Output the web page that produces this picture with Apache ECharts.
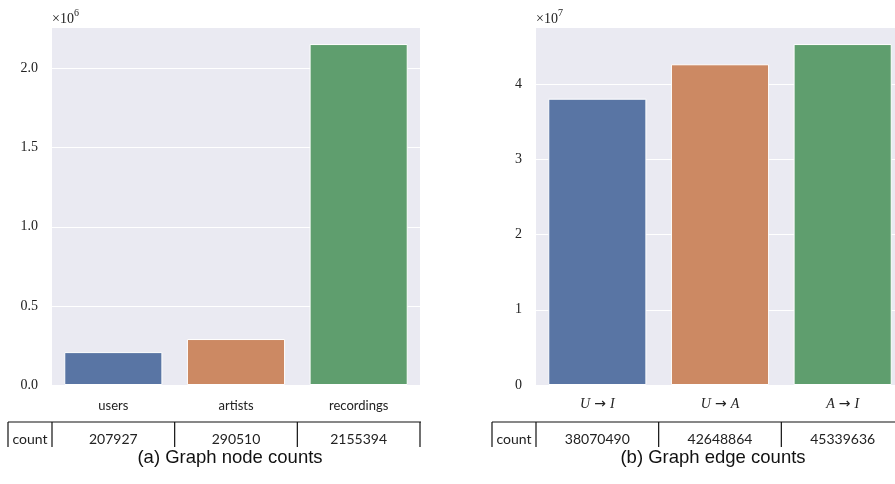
<!DOCTYPE html>
<html>
<head>
<meta charset="utf-8">
<script src="https://cdn.jsdelivr.net/npm/echarts@6/dist/echarts.min.js"></script>
<style>html,body{margin:0;padding:0;background:#fff;overflow:hidden;width:895px;height:484px;}#c{width:920px;height:484px;}</style>
</head>
<body>
<div id="c"></div>
<script>
// ---- data ----
const nodeCategories = ['users', 'artists', 'recordings'];
const nodeCounts = [207927, 290510, 2155394];
const edgeCategories = ['U→I', 'U→A', 'A→I'];
const edgeLabelParts = [['U', 'I'], ['U', 'A'], ['A', 'I']];
const edgeCounts = [38070490, 42648864, 45339636];
const tableRowLabel = 'count';
const captions = ['(a) Graph node counts', '(b) Graph edge counts'];
const barColors = ['#5975a4', '#cc8963', '#5f9e6e'];

const serif = '"Liberation Serif", "DejaVu Serif", serif';
const sans = 'Lato, "Open Sans", sans-serif';

const chart = echarts.init(document.getElementById('c'), null, {renderer: 'canvas'});

function yAxisCfg(grid, scale, decimals, exp) {
  return {
    type: 'value', gridIndex: grid, min: 0,
    max: function (v) { return v.max * 1.05; },
    interval: 0.5 * scale * (decimals ? 1 : 2),
    axisLine: {show: false}, axisTick: {show: false},
    splitLine: {lineStyle: {color: '#ffffff', width: 1}},
    axisLabel: {
      fontFamily: serif, fontSize: 14, color: '#222', margin: 14,
      showMaxLabel: false,
      formatter: function (v) { return (v / scale).toFixed(decimals); }
    },
    name: '{a|×10}{s|' + exp + '}',
    nameLocation: 'end', nameGap: 1,
    nameTextStyle: {
      align: 'left', verticalAlign: 'bottom', padding: [0, 0, 0, 0],
      rich: {
        a: {fontFamily: serif, fontSize: 14, color: '#222', lineHeight: 18, verticalAlign: 'bottom'},
        s: {fontFamily: serif, fontSize: 10, color: '#222', verticalAlign: 'top', lineHeight: 18}
      }
    }
  };
}

function seriesData(vals) {
  return vals.map(function (v, i) {
    return {value: v, itemStyle: {color: barColors[i]}};
  });
}

const option = {
  animation: false,
  grid: [
    {left: 52, top: 27, width: 368, height: 358, backgroundColor: '#eaeaf2', show: true, borderWidth: 0},
    {left: 536, top: 27, width: 368, height: 358, backgroundColor: '#eaeaf2', show: true, borderWidth: 0}
  ],
  xAxis: [
    {
      type: 'category', gridIndex: 0, data: nodeCategories,
      axisLine: {show: false}, axisTick: {show: false},
      axisLabel: {fontFamily: sans, fontSize: 13, color: '#222', margin: 14}
    },
    {
      type: 'category', gridIndex: 1, data: edgeCategories,
      axisLine: {show: false}, axisTick: {show: false},
      axisLabel: {
        margin: 12,
        formatter: function (v, i) {
          const p = edgeLabelParts[i];
          return '{i|' + p[0] + '}{r|→}{i|' + p[1] + '}';
        },
        rich: {
          i: {fontFamily: serif, fontStyle: 'italic', fontSize: 14, color: '#222'},
          r: {fontFamily: '"DejaVu Sans", sans-serif', fontSize: 14, color: '#222', padding: [0, 4, 0, 4]}
        }
      }
    }
  ],
  yAxis: [yAxisCfg(0, 1e6, 1, '6'), yAxisCfg(1, 1e7, 0, '7')],
  series: [
    {
      type: 'bar', xAxisIndex: 0, yAxisIndex: 0, data: seriesData(nodeCounts),
      barCategoryGap: '20%', itemStyle: {borderColor: '#ffffff', borderWidth: 1}
    },
    {
      type: 'bar', xAxisIndex: 1, yAxisIndex: 1, data: seriesData(edgeCounts),
      barCategoryGap: '20%', itemStyle: {borderColor: '#ffffff', borderWidth: 1}
    }
  ]
};
chart.setOption(option);

// ---- tables below the axes + captions ----
function buildTable(axisIdx, values, leftEdge) {
  const els = [];
  const c0 = chart.convertToPixel({xAxisIndex: axisIdx}, 0);
  const c1 = chart.convertToPixel({xAxisIndex: axisIdx}, 1);
  const bw = c1 - c0;
  const yTop = 422, yBot = 447;
  const bounds = [leftEdge];
  for (let i = 0; i <= values.length; i++) bounds.push(c0 - bw / 2 + i * bw);
  const stroke = {stroke: '#111', lineWidth: 1.2};
  els.push({type: 'line', shape: {x1: leftEdge, y1: yTop, x2: bounds[bounds.length - 1] + 1, y2: yTop}, style: stroke, silent: true});
  bounds.forEach(function (x) {
    els.push({type: 'line', shape: {x1: x, y1: yTop, x2: x, y2: yBot}, style: stroke, silent: true});
  });
  const ty = 439;
  els.push({type: 'text', x: (bounds[0] + bounds[1]) / 2, y: ty,
    style: {text: tableRowLabel, fontFamily: sans, fontSize: 14, fill: '#222', align: 'center', verticalAlign: 'middle'}});
  values.forEach(function (v, i) {
    els.push({type: 'text', x: (bounds[i + 1] + bounds[i + 2]) / 2, y: ty,
      style: {text: String(v), fontFamily: sans, fontSize: 14, fill: '#222', align: 'center', verticalAlign: 'middle'}});
  });
  return els;
}
const g = [].concat(
  buildTable(0, nodeCounts, 8),
  buildTable(1, edgeCounts, 492)
);
const capFont = '"Liberation Sans", Arial, sans-serif';
g.push({type: 'text', x: 230, y: 458, style: {text: captions[0], fontFamily: capFont, fontSize: 18.5, fill: '#111', align: 'center', verticalAlign: 'middle'}});
g.push({type: 'text', x: 713, y: 458, style: {text: captions[1], fontFamily: capFont, fontSize: 18.5, fill: '#111', align: 'center', verticalAlign: 'middle'}});
chart.setOption({graphic: g});
</script>
</body>
</html>
